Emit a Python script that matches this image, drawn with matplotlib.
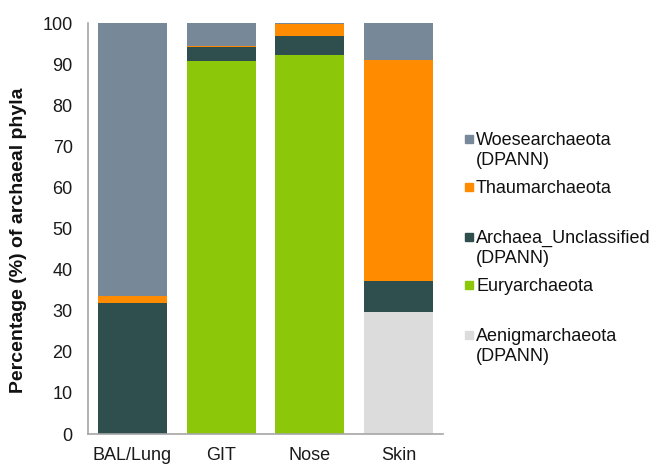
import matplotlib.pyplot as plt
from matplotlib.patches import Rectangle

plt.rcParams['font.family'] = ['Liberation Sans', 'DejaVu Sans']

# sample sites and phylum percentages (bottom to top of each bar)
sites = ["BAL/Lung", "GIT", "Nose", "Skin"]
aenigmarchaeota = [0, 0, 0, 29.6]
euryarchaeota = [0, 90.8, 92.3, 0]
archaea_unclassified = [31.8, 3.4, 4.6, 7.7]
thaumarchaeota = [1.8, 0.3, 2.8, 53.7]
woesearchaeota = [66.4, 5.5, 0.3, 9.0]

layers = [
    ("Aenigmarchaeota\n(DPANN)", aenigmarchaeota, "#DCDCDC"),
    ("Euryarchaeota", euryarchaeota, "#8DC70A"),
    ("Archaea_Unclassified\n(DPANN)", archaea_unclassified, "#2F4F4F"),
    ("Thaumarchaeota", thaumarchaeota, "#FF8C00"),
    ("Woesearchaeota\n(DPANN)", woesearchaeota, "#778899"),
]

W, H = 653, 465
fig = plt.figure(figsize=(W / 100, H / 100), dpi=100)
ax = fig.add_axes([88 / W, 1 - 434 / H, (443 - 88) / W, (434 - 23) / H])

x = range(len(sites))
bottom = [0.0] * len(sites)
for name, vals, col in layers:
    ax.bar(x, vals, width=0.775, bottom=bottom, color=col,
           edgecolor="none", linewidth=0)
    bottom = [b + v for b, v in zip(bottom, vals)]

ax.set_xlim(-0.5, 3.5)
ax.set_ylim(0, 100)
ax.set_yticks(range(0, 101, 10))
ax.set_xticks(list(x))
ax.set_xticklabels(sites)
ax.tick_params(axis="both", length=0, labelsize=13, colors="#1a1a1a")
ax.tick_params(axis="y", pad=11)
ax.tick_params(axis="x", pad=9)
for s in ["top", "right"]:
    ax.spines[s].set_visible(False)
for s in ["left", "bottom"]:
    ax.spines[s].set_color("#A6A6A6")
    ax.spines[s].set_linewidth(1.2)

fig.text(19 / W, 1 - 240 / H, "Percentage (%) of archaeal phyla",
         fontsize=14, fontweight="bold", rotation=90,
         ha="center", va="center", color="#111111")

# legend, top to bottom, placed like the original
legend_baselines = [145, 193, 243, 291, 341]
for (name, vals, col), yb in zip(reversed(layers), legend_baselines):
    for i, line in enumerate(name.split("\n")):
        fig.text(476 / W, 1 - (yb + 20 * i) / H, line, fontsize=13,
                 va="baseline", ha="left", color="#111111")
    fig.patches.append(Rectangle((465 / W, 1 - (yb - 2) / H),
                                 8 / W, 8 / H, color=col,
                                 transform=fig.transFigure, figure=fig))

fig.savefig("out.png", dpi=100)
